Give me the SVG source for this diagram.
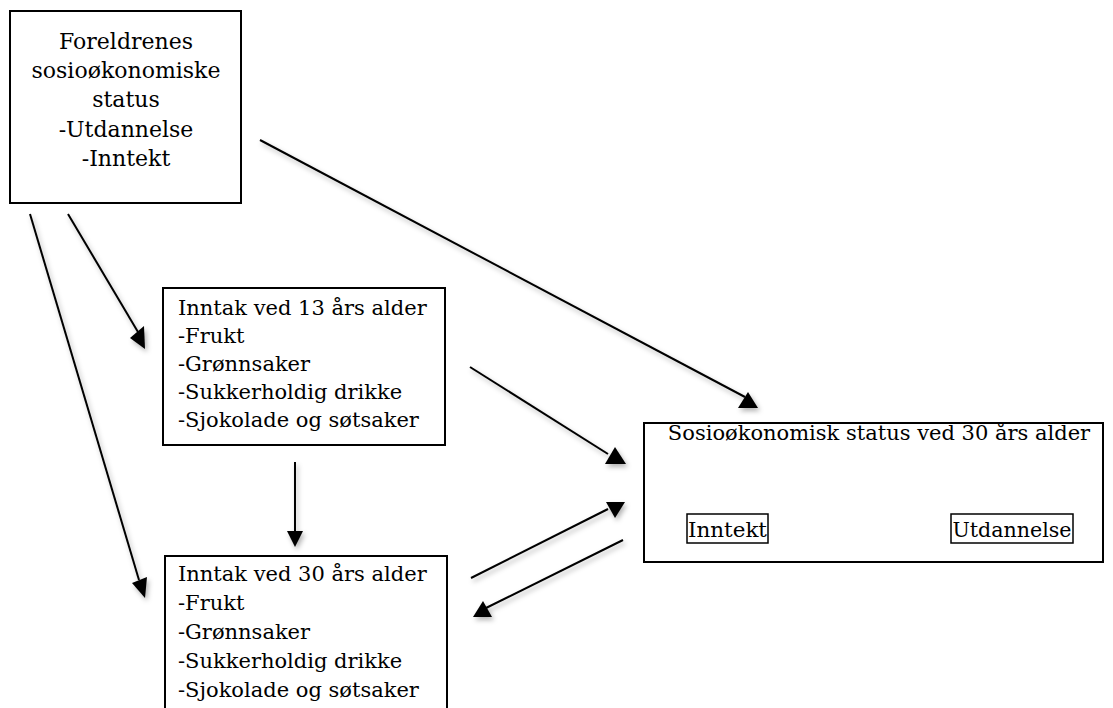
<svg xmlns="http://www.w3.org/2000/svg" width="1113" height="708" viewBox="0 0 1113 708">
<style>
.box{fill:#fff;stroke:#000;stroke-width:2}
.ibox{fill:none;stroke:#000;stroke-width:1.5}
.t{font-family:"DejaVu Serif","Liberation Serif",serif;font-size:21px;fill:#000}
.tt{font-size:22px}
.c{text-anchor:middle}
.ln{stroke:#000;stroke-width:2;fill:none}
.hd{fill:#000}
</style>
<defs>
<filter id="sh" x="-20%" y="-20%" width="140%" height="140%">
<feDropShadow dx="2" dy="3" stdDeviation="2.5" flood-color="#000" flood-opacity="0.3"/>
</filter>
</defs>
<rect width="1113" height="708" fill="#fff"/>
<g id="parents">
<rect class="box" x="10" y="11" width="231" height="192"/>
<text class="t tt c" x="126" y="49">Foreldrenes</text>
<text class="t tt c" x="126" y="78">sosioøkonomiske</text>
<text class="t tt c" x="126" y="107">status</text>
<text class="t tt c" x="126" y="137">-Utdannelse</text>
<text class="t tt c" x="126" y="166">-Inntekt</text>
</g>
<g id="intake13">
<rect class="box" x="163" y="288" width="282" height="157"/>
<text class="t" x="178" y="315">Inntak ved 13 års alder</text>
<text class="t" x="178" y="343">-Frukt</text>
<text class="t" x="178" y="371">-Grønnsaker</text>
<text class="t" x="178" y="399">-Sukkerholdig drikke</text>
<text class="t" x="178" y="427">-Sjokolade og søtsaker</text>
</g>
<g id="intake30">
<rect class="box" x="165" y="556" width="282" height="170"/>
<text class="t" x="178" y="581">Inntak ved 30 års alder</text>
<text class="t" x="178" y="610">-Frukt</text>
<text class="t" x="178" y="639">-Grønnsaker</text>
<text class="t" x="178" y="668">-Sukkerholdig drikke</text>
<text class="t" x="178" y="697">-Sjokolade og søtsaker</text>
</g>
<g id="ses30">
<rect class="box" x="644" y="423" width="459" height="139"/>
<text class="t c" x="879" y="440">Sosioøkonomisk status ved 30 års alder</text>
<rect class="ibox" x="687" y="514" width="81" height="29"/>
<text class="t c" x="727.5" y="537" textLength="79" lengthAdjust="spacingAndGlyphs">Inntekt</text>
<rect class="ibox" x="951" y="514" width="122" height="29"/>
<text class="t c" x="1012" y="537" textLength="119" lengthAdjust="spacingAndGlyphs">Utdannelse</text>
</g>
<g id="connectors" filter="url(#sh)">
<line class="ln" x1="68" y1="214" x2="138" y2="332"/>
<polygon class="hd" points="130,338 144,326 145,349"/>
<line class="ln" x1="30" y1="214" x2="139" y2="580"/>
<polygon class="hd" points="132,583 147,577 145,598"/>
<line class="ln" x1="295" y1="462" x2="295" y2="533"/>
<polygon class="hd" points="287,531 303,531 295,547"/>
<line class="ln" x1="260" y1="140" x2="745" y2="397"/>
<polygon class="hd" points="748,392 738,408 758,408"/>
<line class="ln" x1="470" y1="367" x2="608" y2="454"/>
<polygon class="hd" points="615,447 605,464 626,464"/>
<line class="ln" x1="471" y1="578" x2="608" y2="509"/>
<polygon class="hd" points="606,502 625,502 615,518"/>
<line class="ln" x1="623" y1="540" x2="486" y2="608"/>
<polygon class="hd" points="483,601 473,617 492,617"/>
</g>
</svg>
